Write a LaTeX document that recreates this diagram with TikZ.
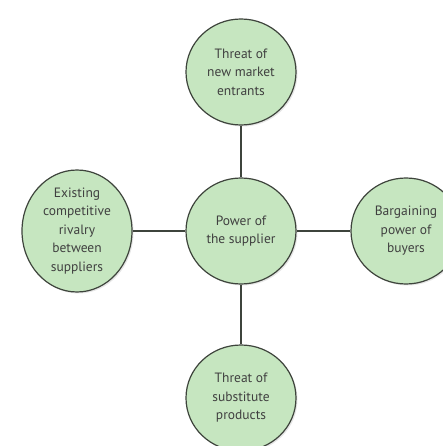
\documentclass[tikz,border=0pt]{standalone}
\usepackage{fontspec}
\setmainfont{PT Sans}
\usetikzlibrary{positioning,shapes.geometric,shadows}
\definecolor{forcefill}{RGB}{198,230,192}
\definecolor{forcedraw}{RGB}{62,68,60}

\begin{document}
\begin{tikzpicture}[x=1pt,y=-1pt,
    force/.style={ellipse,draw=forcedraw,line width=1.2pt,fill=forcefill,
        minimum width=110pt,minimum height=106pt,inner sep=0pt,align=center,
        text=black!75,font=\fontsize{13.5}{18.5}\selectfont,
        drop shadow={opacity=0.2,shadow xshift=1.5pt,shadow yshift=-1.5pt}},
    link/.style={draw=forcedraw,line width=1.4pt}
]
    \useasboundingbox (0,0) rectangle (443,446);
    % the five forces
    \node[force] (supplier) at (241,231) {Power of\\the supplier};
    \node[force] (entrants) at (241,72) {Threat of\\new market\\entrants};
    \node[force] (rivalry) at (77,231) {Existing\\competitive\\rivalry\\between\\suppliers};
    \node[force] (buyers) at (406,231) {Bargaining\\power of\\buyers};
    \node[force] (substitutes) at (241,398) {Threat of\\substitute\\products};
    \foreach \n in {entrants,rivalry,buyers,substitutes} {
        \draw[link] (\n) -- (supplier);
    }
\end{tikzpicture}
\end{document}
